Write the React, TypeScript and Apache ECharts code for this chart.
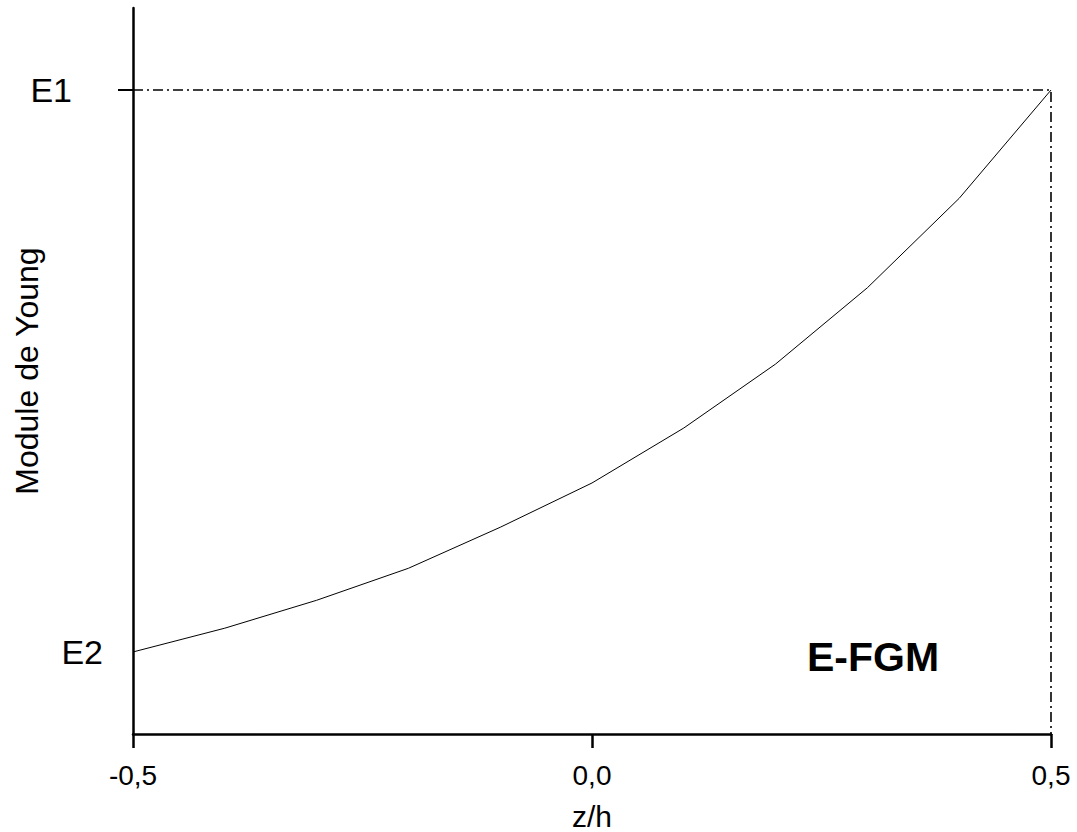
import React, { useEffect, useRef } from "react";
import * as echarts from "echarts";

const zValues = [-0.5, -0.4, -0.3, -0.2, -0.1, 0.0, 0.1, 0.2, 0.3, 0.4, 0.5];
const youngValues = [1.0, 1.29, 1.63, 2.02, 2.52, 3.06, 3.73, 4.51, 5.44, 6.53, 7.85];
const E2 = 1.0;
const E1 = 7.85;
const yMax = 8.85;
const xTicks = [-0.5, 0.0, 0.5];
const xLabel = "z/h";
const yLabel = "Module de Young";
const annotation = "E-FGM";

export default function App() {
  const ref = useRef<HTMLDivElement>(null);
  useEffect(() => {
    if (!ref.current) return;
    const chart = echarts.init(ref.current, null, { renderer: "svg" });
    const font = "Liberation Sans, Arial, sans-serif";
    chart.setOption({
      animation: false,
      backgroundColor: "#ffffff",
      grid: {
        left: 133,
        right: 26,
        top: 8,
        bottom: 98,
        containLabel: false,
        outerBoundsMode: "none",
      },
      xAxis: {
        type: "value",
        min: xTicks[0],
        max: xTicks[xTicks.length - 1],
        interval: 0.5,
        name: xLabel,
        nameLocation: "middle",
        nameGap: 67,
        nameMoveOverlap: false,
        nameTextStyle: { fontFamily: font, fontSize: 30, color: "#000" },
        axisLine: { onZero: false, lineStyle: { color: "#000", width: 2.5 } },
        axisTick: { show: true, inside: false, length: 14, lineStyle: { color: "#000", width: 2.5 } },
        axisLabel: {
          margin: 27,
          fontFamily: font,
          fontSize: 28,
          color: "#000",
          formatter: (v: number) => v.toFixed(1).replace(".", ","),
        },
        splitLine: { show: false },
      },
      yAxis: {
        type: "value",
        min: 0,
        max: yMax,
        name: yLabel,
        nameLocation: "middle",
        nameGap: 90,
        nameMoveOverlap: false,
        nameTextStyle: { fontFamily: font, fontSize: 32, color: "#000" },
        axisLine: { onZero: false, lineStyle: { color: "#000", width: 2.5 } },
        axisTick: {
          show: true,
          inside: false,
          length: 15,
          customValues: [E1],
          lineStyle: { color: "#000", width: 2 },
        },
        axisLabel: {
          margin: 30,
          customValues: [E2, E1],
          fontFamily: font,
          fontSize: 34,
          color: "#000",
          formatter: (v: number) => (Math.abs(v - E1) < 1e-6 ? "{a|E1}" : "{b|E2}"),
          rich: {
            a: { fontFamily: font, fontSize: 34, color: "#000", padding: [0, 31, 0, 0] },
            b: { fontFamily: font, fontSize: 34, color: "#000" },
          },
        },
        splitLine: { show: false },
      },
      series: [
        {
          type: "line",
          data: zValues.map((z, i) => [z, youngValues[i]]),
          showSymbol: false,
          lineStyle: { color: "#000", width: 1 },
          z: 3,
        },
        {
          type: "line",
          data: [
            [xTicks[0], E1],
            [xTicks[2], E1],
            [xTicks[2], 0],
          ],
          showSymbol: false,
          lineStyle: { color: "#000", width: 1.6, type: [10, 4, 2, 4] },
          z: 2,
        },
      ],
      graphic: [
        {
          type: "text",
          x: 807,
          y: 657,
          style: {
            text: annotation,
            font: "bold 41px Liberation Sans, Arial, sans-serif",
            fill: "#000",
            textVerticalAlign: "middle",
            verticalAlign: "middle",
          },
        },
      ],
    });
    return () => chart.dispose();
  }, []);
  return (
    <div
      ref={ref}
      style={{ position: "absolute", left: 0, top: 0, width: 1077, height: 832 }}
    />
  );
}
